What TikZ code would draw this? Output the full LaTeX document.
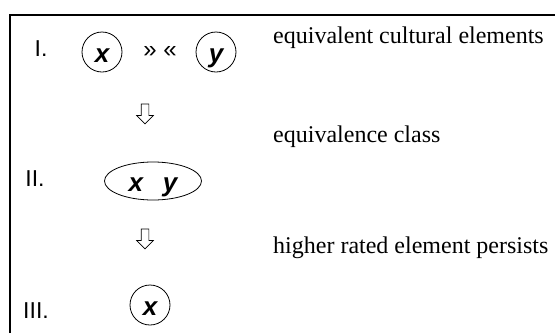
\documentclass[tikz,border=0pt]{standalone}
\usepackage{fontspec}
\setmainfont{Liberation Serif}
\setsansfont{Liberation Sans}
\usepackage{tikz}
\usetikzlibrary{shapes.geometric,shapes.arrows,positioning}
\newcommand{\labfont}{\fontsize{24}{28}\selectfont}
\newcommand{\numfont}{\sffamily\fontsize{23}{27}\selectfont}
\newcommand{\elfont}{\sffamily\bfseries\itshape\fontsize{26}{30}\selectfont}

\begin{document}
\begin{tikzpicture}[x=1pt,y=-1pt,
    elem/.style={draw, circle, line width=0.8pt, minimum size=40pt, inner sep=0pt,
        text height=21pt, text depth=0pt, font=\elfont},
    eqclass/.style={draw, ellipse, line width=0.8pt, minimum width=97pt, minimum height=38pt,
        inner sep=0pt, text height=21pt, text depth=0pt, font=\elfont},
    stagenum/.style={anchor=base, inner sep=0pt, font=\numfont},
    note/.style={anchor=base west, inner sep=0pt, font=\labfont},
    downarrow/.style={draw, single arrow, line width=0.7pt, inner sep=3.5pt,
        single arrow head extend=4.5pt, minimum height=20pt, shape border rotate=270}]
    \useasboundingbox (0,0) rectangle (555,333);
    \draw[line width=2pt] (10,333) -- (10,15) -- (555,15);
    % stage I
    \node[stagenum] (numI) at (41,56) {I.};
    \node[elem] (xI) at (102,52) {x};
    \node[inner sep=0pt, font=\sffamily\fontsize{24}{28}\selectfont] (equiv) at (160,52) {» «};
    \node[elem] (yI) at (216,52) {y};
    \node[note] (labI) at (273,43) {equivalent cultural elements};
    \node[downarrow] (arrI) at (145,112) {};
    % stage II
    \node[stagenum] (numII) at (35,186) {II.};
    \node[eqclass] (xyII) at (153,181) {x\hspace{20pt}y};
    \node[note] (labII) at (273,142) {equivalence class};
    \node[downarrow] (arrII) at (145,237) {};
    % stage III
    \node[stagenum] (numIII) at (36,318) {III.};
    \node[elem] (xIII) at (150,305) {x};
    \node[note] (labIII) at (273,253) {higher rated element persists};
\end{tikzpicture}
\end{document}
